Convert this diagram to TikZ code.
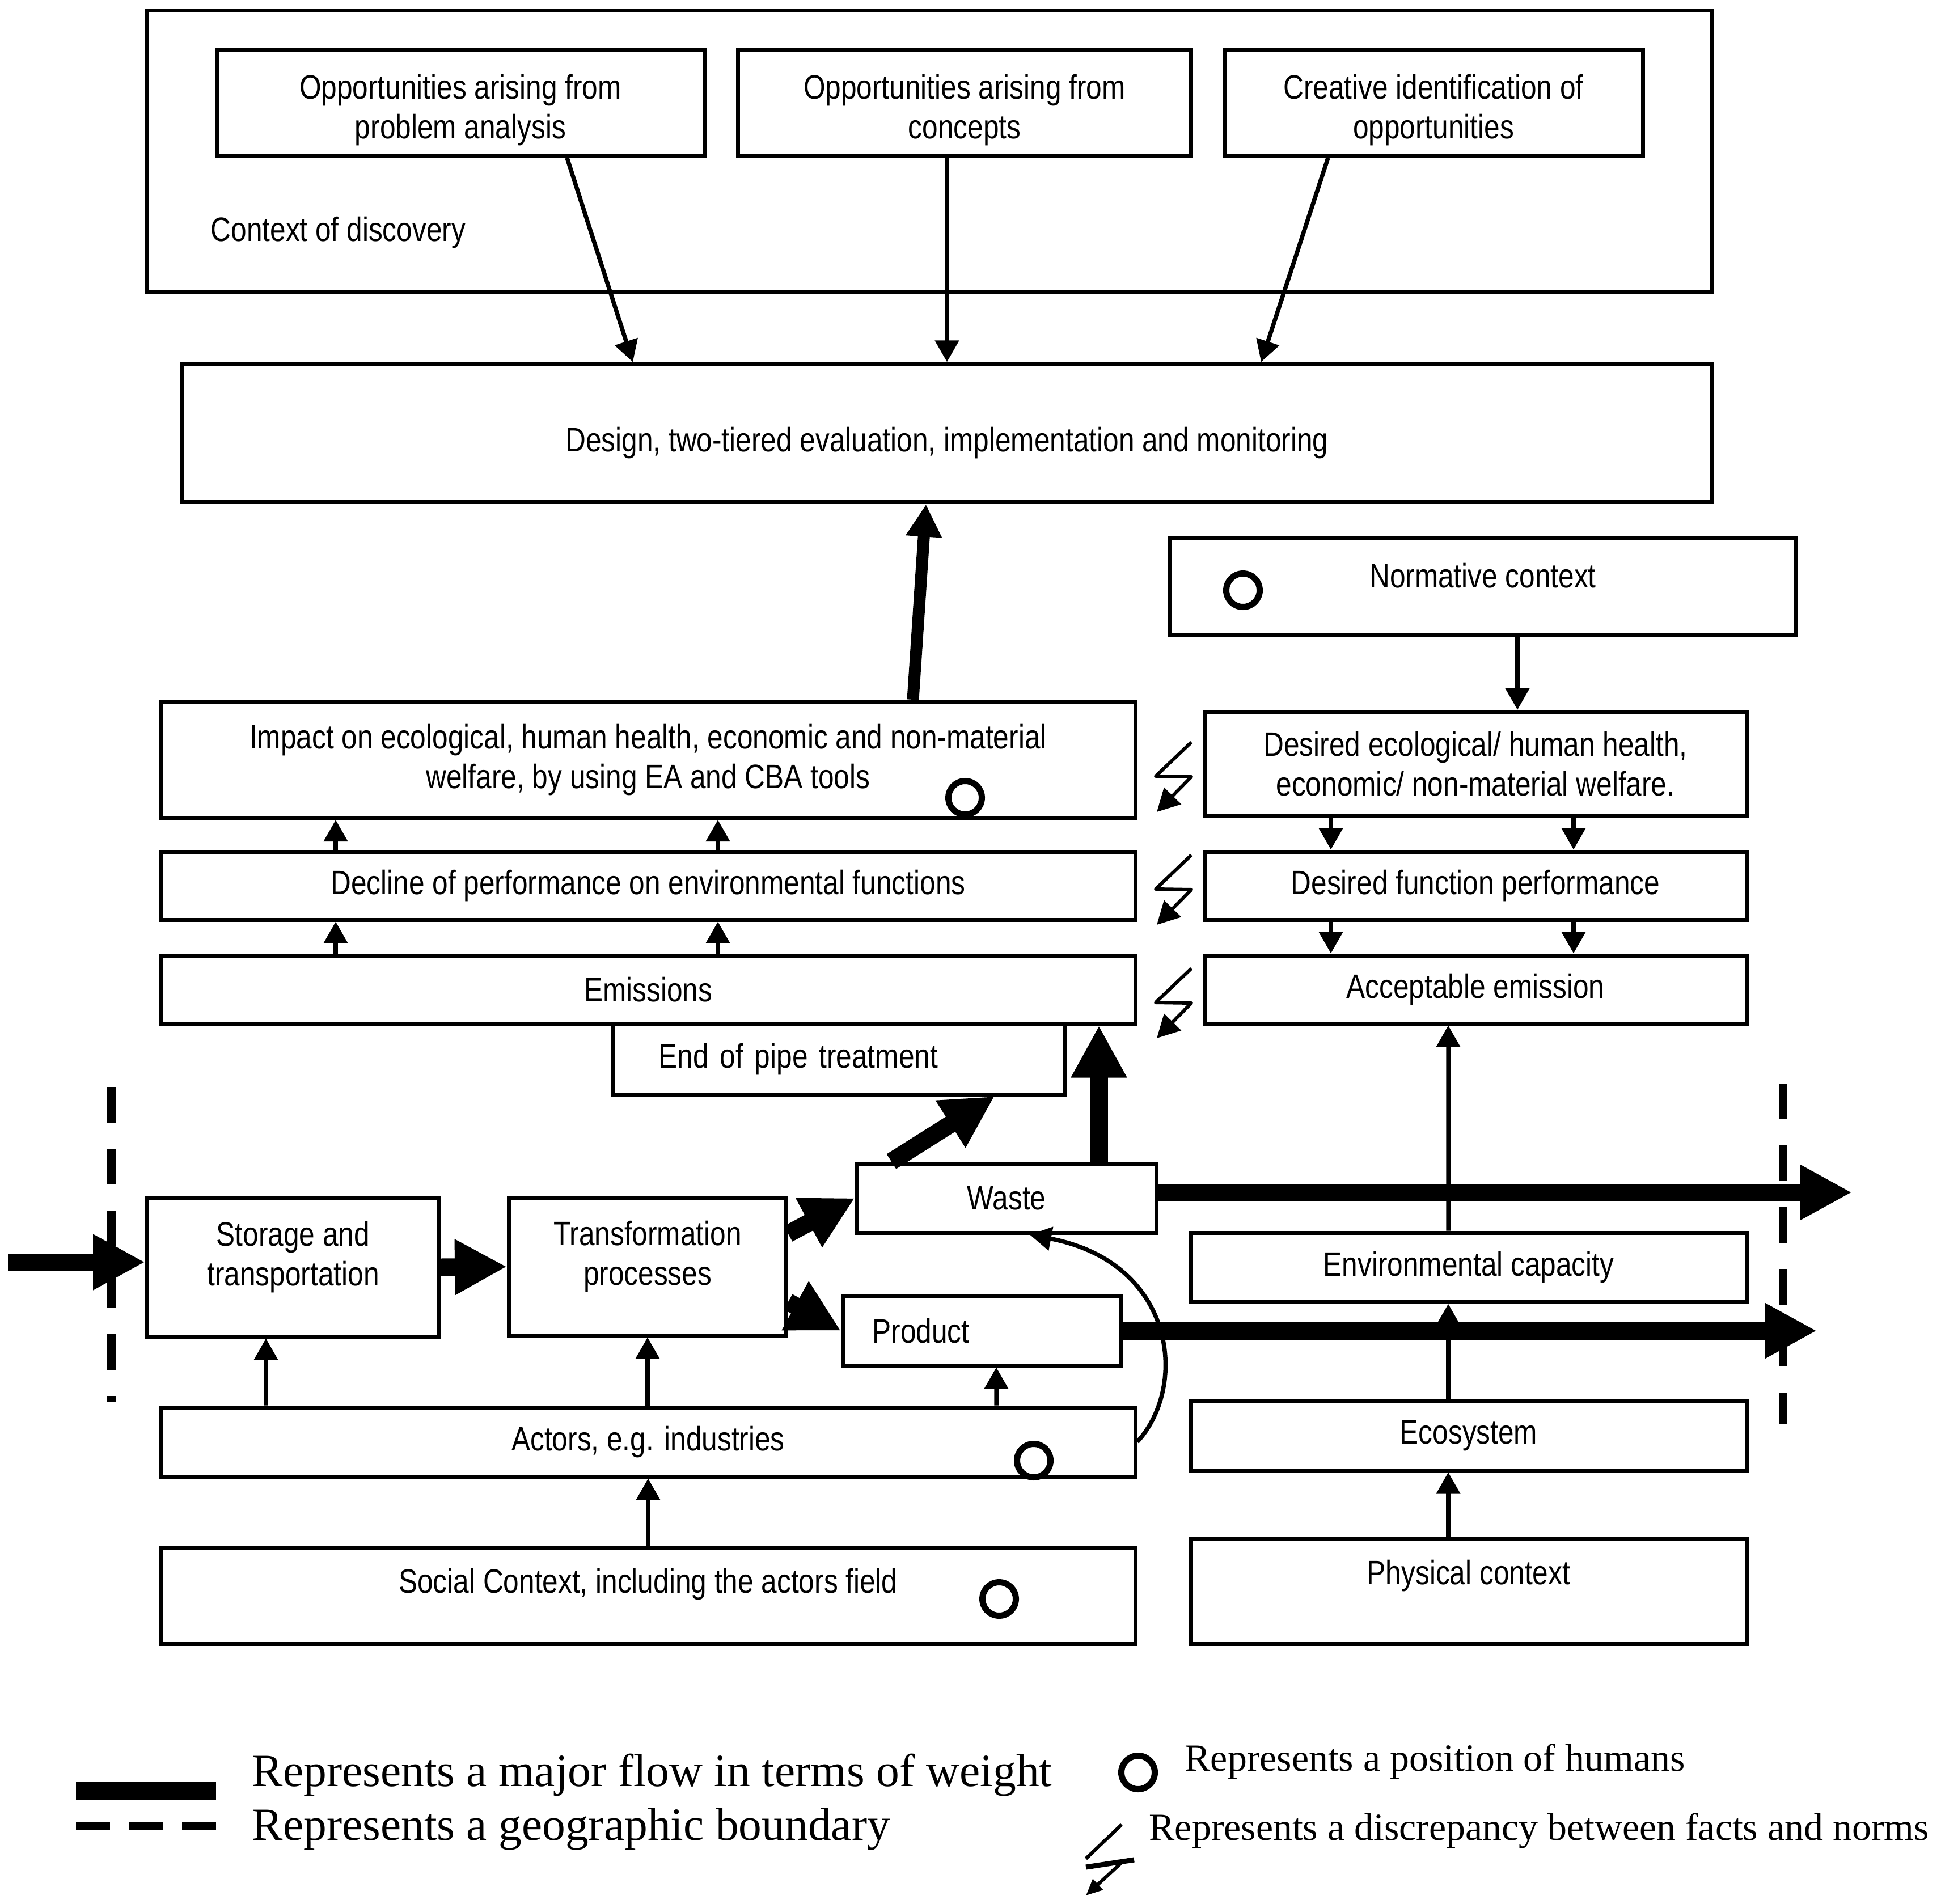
\documentclass[tikz,border=0pt]{standalone}
\usepackage{fontspec}
\usepackage{tikz}
\usetikzlibrary{arrows.meta,positioning}
\newfontfamily\cajafont{Liberation Sans}[FakeStretch=0.83]
\newfontfamily\leyfont{Liberation Serif}
\tikzset{
  every node/.style = {font=\cajafont\fontsize{17pt}{20pt}\selectfont},
  caja/.style       = {draw=black, line width=0.07cm, inner sep=0pt, align=center},
  fila/.style       = {caja, minimum width=17.18cm},
  norma/.style      = {caja, minimum width=9.56cm},
  medio/.style      = {caja, minimum width=9.80cm},
  humano/.style     = {draw=black, fill=white, circle, line width=0.11cm,
                       minimum size=0.59cm, inner sep=0pt},
  flecha/.style     = {-{Triangle[length=0.38cm,width=0.41cm]}, line width=0.075cm},
  mayor/.style      = {-{Triangle[length=0.92cm,width=0.92cm]}, line width=0.31cm},
  media/.style      = {-{Triangle[length=0.57cm,width=0.60cm]}, line width=0.21cm},
  frontera/.style   = {line width=0.15cm, dash pattern=on 0.63cm off 0.46cm},
  choque/.style     = {-{Triangle[length=0.40cm,width=0.41cm]}, line width=0.06cm,
                       line join=round},
  leyenda/.style    = {font=\leyfont\fontsize{23.2pt}{27pt}\selectfont,
                       anchor=base west, inner sep=0pt},
  leyendab/.style   = {leyenda, font=\leyfont\fontsize{19.3pt}{23pt}\selectfont},
}

\begin{document}
\begin{tikzpicture}

\useasboundingbox (0,0) rectangle (34.23,-33.58);

% =============================================================================
% Contexto de descubrimiento
% =============================================================================
\node[caja, minimum width=27.59cm, minimum height=4.96cm] (marco) at (16.39,-2.67) {};
\node[anchor=west, inner sep=0pt] (tmarco) at (3.71,-4.10) {Context of discovery};

\node[caja, minimum width=8.60cm, minimum height=1.86cm, text height=1.38cm] (op1) at (8.12,-1.82)
  {Opportunities arising from\\problem analysis};
\node[caja, minimum width=7.99cm, minimum height=1.86cm, text height=1.38cm] (op2) at (17.01,-1.82)
  {Opportunities arising from\\concepts};
\node[caja, minimum width=7.38cm, minimum height=1.86cm, text height=1.38cm] (op3) at (25.28,-1.82)
  {Creative identification of\\opportunities};

\node[caja, minimum width=26.98cm, minimum height=2.44cm, text height=0.78cm] (dis) at (16.70,-7.64)
  {Design, two-tiered evaluation, implementation and monitoring};

\draw[flecha] ([xshift=1.88cm]op1.south) -- ([xshift=-5.54cm]dis.north);
\draw[flecha] (op2.south -| dis.north) -- (dis.north);
\draw[flecha] ([xshift=-1.86cm]op3.south) -- ([xshift=5.54cm]dis.north);

% =============================================================================
% Hechos (izquierda) frente a normas (derecha)
% =============================================================================
\node[caja, minimum width=11.05cm, minimum height=1.70cm, text depth=0.41cm] (norm) at (26.15,-10.35)
  {Normative context};

\node[fila, minimum height=2.05cm] (imp) at (11.43,-13.40)
  {Impact on ecological, human health, economic and non-material\\welfare, by using EA and CBA tools};
\node[norma, minimum height=1.83cm] (dese) at (26.02,-13.47)
  {Desired ecological/ human health,\\economic/ non-material welfare.};
\node[fila, minimum height=1.20cm] (decl) at (11.43,-15.62)
  {Decline of performance on environmental functions};
\node[norma, minimum height=1.20cm] (dfun) at (26.02,-15.62) {Desired function performance};
\node[fila, minimum height=1.20cm] (emi) at (11.43,-17.45) {Emissions};
\node[norma, minimum height=1.20cm] (acep) at (26.02,-17.45) {Acceptable emission};
\node[caja, minimum width=7.97cm, minimum height=1.24cm, text width=6.35cm, inner xsep=0.81cm,
      align=left] (fin) at (14.79,-18.68) {End of pipe treatment};

\coordinate (xn) at ([xshift=0.74cm]dese.north);
\draw[flecha] (norm.south -| xn) -- (xn);
\foreach \dx in {-5.51,1.23} {
  \draw[flecha] ([xshift=\dx cm]decl.north) -- ([xshift=\dx cm]imp.south);
  \draw[flecha] ([xshift=\dx cm]emi.north) -- ([xshift=\dx cm]decl.south);
}
\foreach \dx in {-2.55,1.73} {
  \draw[flecha] ([xshift=\dx cm]dese.south) -- ([xshift=\dx cm]dfun.north);
  \draw[flecha] ([xshift=\dx cm]dfun.south) -- ([xshift=\dx cm]acep.north);
}
\draw[media] ([xshift=4.67cm]imp.north) -- ([xshift=-0.37cm]dis.south);

% discrepancias entre hechos y normas
\foreach \y in {-13.09,-15.08,-17.08}
  \draw[choque] (21.01,\y) -- ++(-0.63,-0.60) -- ++(0.63,-0.01) -- ++(-0.61,-0.62);

% =============================================================================
% Flujo de materiales
% =============================================================================
\node[caja, minimum width=5.28cm, minimum height=1.22cm] (resid) at (17.75,-21.13) {Waste};
\node[caja, minimum width=5.15cm, minimum height=2.44cm, text depth=0.48cm] (alm) at (5.17,-22.35)
  {Storage and\\transportation};
\node[caja, minimum width=4.89cm, minimum height=2.42cm, text depth=0.48cm] (trans) at (11.42,-22.34)
  {Transformation\\processes};
\node[caja, minimum width=4.91cm, minimum height=1.22cm, text width=3.87cm, inner xsep=0.52cm,
      align=left] (prod) at (17.32,-23.47) {Product};
\node[medio, minimum height=1.22cm] (capa) at (25.90,-22.35) {Environmental capacity};
\node[fila, minimum height=1.22cm] (act) at (11.43,-25.43) {Actors, e.g. industries};
\node[medio, minimum height=1.22cm] (eco) at (25.90,-25.32) {Ecosystem};
\node[fila, minimum height=1.70cm, text depth=0.52cm] (soc) at (11.43,-28.14)
  {Social Context, including the actors field};
\node[medio, minimum height=1.86cm, text depth=0.67cm] (fis) at (25.90,-28.06) {Physical context};

\coordinate (entra) at (0.14,-22.26);
\coordinate (salr) at (32.66,-21.03);
\coordinate (salp) at (32.04,-23.47);
\coordinate (xr) at ([xshift=1.63cm]resid.north);

\draw[mayor] (entra) -- (entra -| alm.west);
\draw[mayor] (alm.east) -- (trans.west);
\draw[mayor] ([yshift=0.58cm]trans.east) -- (resid.west);
\draw[mayor] ([yshift=-0.62cm]trans.east) -- (prod.west);
\draw[mayor] ([xshift=-2.03cm]resid.north) -- ([xshift=2.75cm]fin.south);
\draw[mayor] (xr) -- (xr |- emi.south);
\draw[mayor] ([yshift=0.10cm]resid.east) -- (salr);
\draw[mayor] (prod.east) -- (salp);

\draw[flecha] ([xshift=-6.74cm]act.north) -- ([xshift=-0.48cm]alm.south);
\draw[flecha] (trans.south |- act.north) -- (trans.south);
\draw[flecha] ([xshift=6.14cm]act.north) -- ([xshift=0.25cm]prod.south);
\draw[flecha] (soc.north) -- (act.south);
\draw[flecha] (act.east) .. controls (20.96,-24.45) and (20.74,-22.27) .. ([xshift=0.41cm]resid.south);
\draw[flecha] ([xshift=-0.36cm]fis.north) -- ([xshift=-0.36cm]eco.south);
\draw[flecha] ([xshift=-0.36cm]eco.north) -- ([xshift=-0.36cm]capa.south);
\draw[flecha] ([xshift=-0.36cm]capa.north) -- ([xshift=-0.48cm]acep.south);

% fronteras geograficas
\coordinate (fi1) at (1.96,-19.17);
\coordinate (fi2) at (1.96,-24.73);
\coordinate (fd1) at (31.44,-19.11);
\coordinate (fd2) at (31.44,-25.12);
\draw[frontera] (fi1) -- (fi2);
\draw[frontera] (fd1) -- (fd2);

% posiciones de personas
\node[humano] (hnorm) at (21.92,-10.41) {};
\node[humano] (himp) at (17.02,-14.07) {};
\node[humano] (hact) at (18.23,-25.76) {};
\node[humano] (hsoc) at (17.62,-28.20) {};

% =============================================================================
% Leyenda
% =============================================================================
\coordinate (lg1) at (1.34,-31.59);
\coordinate (lg2) at (3.81,-31.59);
\coordinate (lf1) at (1.34,-32.20);
\coordinate (lf2) at (3.81,-32.20);
\draw[line width=0.32cm] (lg1) -- (lg2);
\draw[line width=0.13cm, dash pattern=on 0.6cm off 0.335cm] (lf1) -- (lf2);
\node[leyenda] (tpeso) at (4.44,-31.50) {Represents a major flow in terms of weight};
\node[leyenda] (tfront) at (4.44,-32.45) {Represents a geographic boundary};

\node[humano] (hley) at (20.07,-31.26) {};
\node[leyendab] (thum) at (20.89,-31.23) {Represents a position of humans};
\draw[line width=0.06cm] (19.78,-32.18) -- (19.15,-32.78);
\draw[line width=0.09cm] (19.15,-32.93) -- (20.00,-32.80);
\draw[line width=0.06cm, -{Triangle[length=0.29cm,width=0.25cm]}] (19.80,-32.83) -- (19.15,-33.43);
\node[leyendab] (tdis) at (20.26,-32.45) {Represents a discrepancy between facts and norms};

\end{tikzpicture}
\end{document}
